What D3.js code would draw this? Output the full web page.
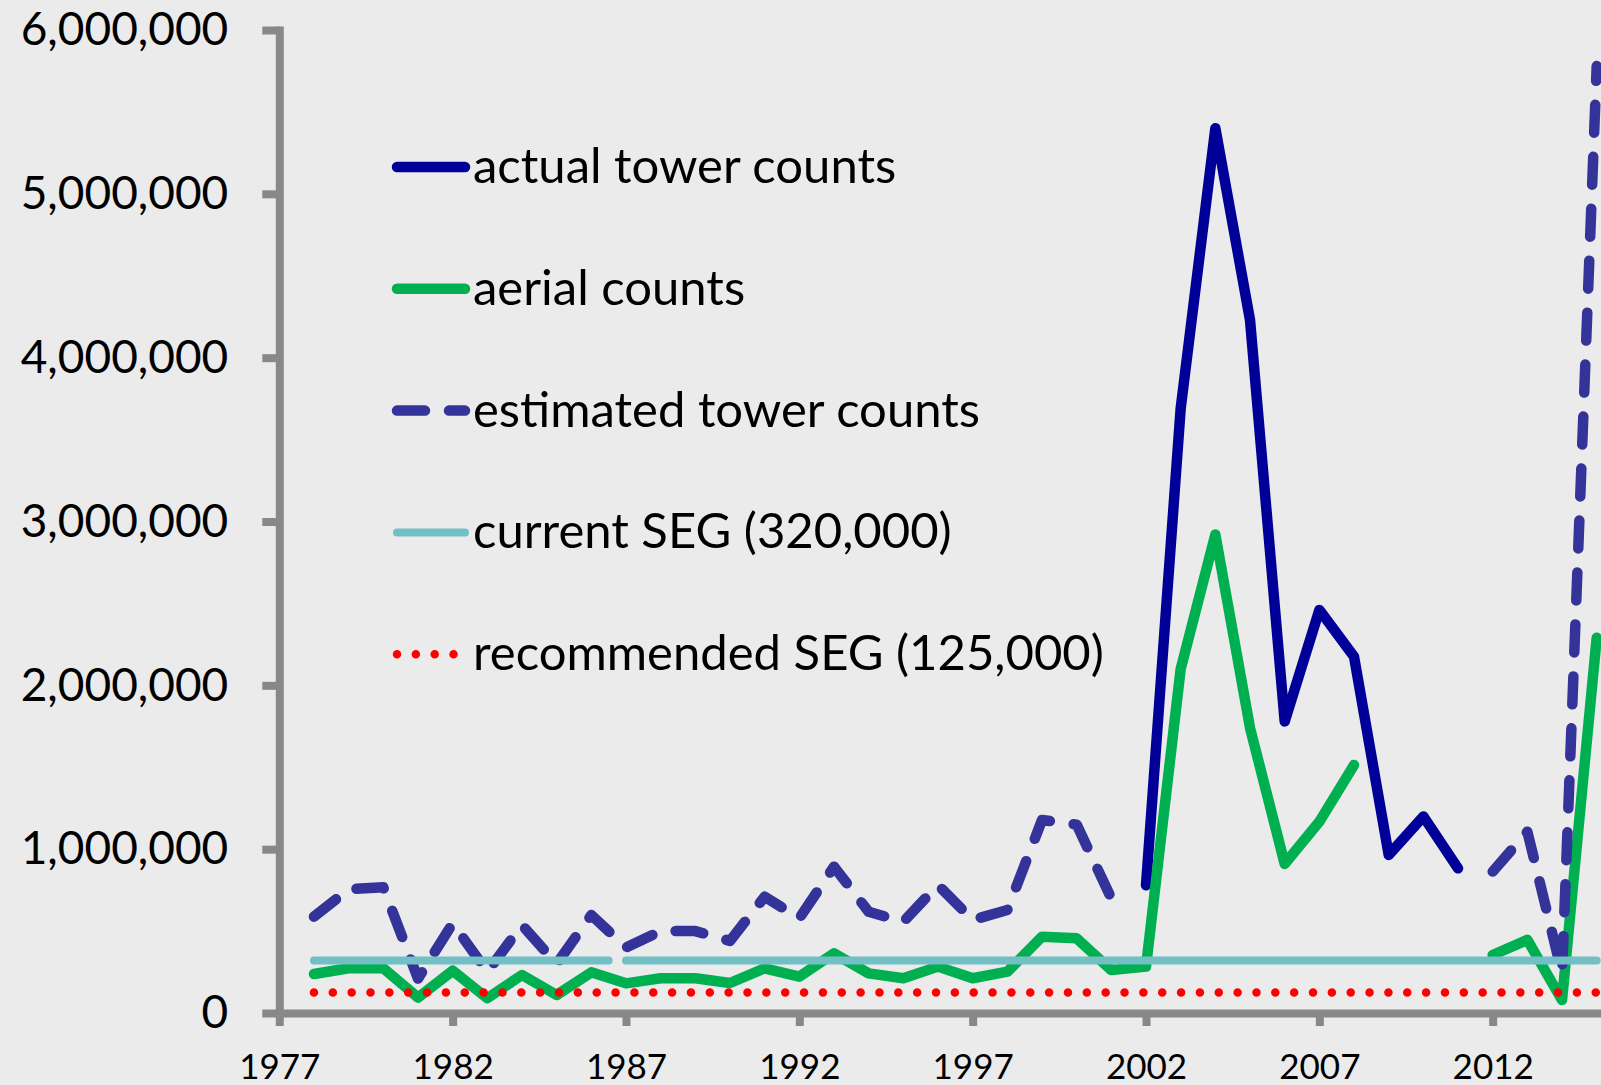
<!DOCTYPE html>
<html>
<head>
<meta charset="utf-8">
<title>Tower and aerial counts</title>
<script src="https://d3js.org/d3.v7.min.js"></script>
<style>
  body { margin: 0; background: #ebebeb; }
  svg { display: block; font-family: Lato, "Open Sans", sans-serif; }
  .axis path, .axis line { stroke: #888888; stroke-width: 8; }
  .axis text { fill: #000; font-family: Lato, "Open Sans", sans-serif; }
</style>
</head>
<body>
<div id="chart"></div>
<script>
// years on the x axis (one value per year)
const years = [1978, 1979, 1980, 1981, 1982, 1983, 1984, 1985, 1986, 1987,
  1988, 1989, 1990, 1991, 1992, 1993, 1994, 1995, 1996, 1997,
  1998, 1999, 2000, 2001, 2002, 2003, 2004, 2005, 2006, 2007,
  2008, 2009, 2010, 2011, 2012, 2013, 2014, 2015];

const actualTower = [null, null, null, null, null, null, null, null, null, null,
  null, null, null, null, null, null, null, null, null, null,
  null, null, null, null, 780000, 3690000, 5400000, 4230000, 1780000, 2460000,
  2175000, 965000, 1200000, 883000, null, null, null, null];

const aerial = [238000, 273000, 273000, 94000, 258000, 90000, 232000, 110000, 248000, 181000,
  212000, 212000, 183000, 273000, 222000, 364000, 242000, 212000, 283000, 212000,
  252000, 466000, 456000, 262000, 283000, 2100000, 2920000, 1740000, 910000, 1168000,
  1514000, null, null, null, 354000, 446000, 79000, 2290000];

const estimatedTower = [588000, 755000, 767000, 210000, 547000, 252000, 537000, 300000, 598000, 400000,
  500000, 500000, 440000, 710000, 578000, 893000, 618000, 557000, 781000, 568000,
  629000, 1178000, 1150000, 700000, null, null, null, null, null, null,
  null, null, null, null, 863000, 1107000, 242000, 5780000];

// goal lines: level and the year spans they are drawn over
const currentSeg = 320000;
const currentSegSpans = [[1978, 1986.5], [1987, 2015]];
const recommendedSeg = 125000;
const recommendedSegSpan = [1978, 2015];

const xTicks = [1977, 1982, 1987, 1992, 1997, 2002, 2007, 2012];
const yTicks = [0, 1000000, 2000000, 3000000, 4000000, 5000000, 6000000];

const legendLabels = ["actual tower counts", "aerial counts", "estimated tower counts",
  "current SEG (320,000)", "recommended SEG (125,000)"];

const width = 1601, height = 1085;

const svg = d3.select("#chart").append("svg")
  .attr("width", width)
  .attr("height", height);

svg.append("rect").attr("width", width).attr("height", height).attr("fill", "#ebebeb");

const x = d3.scaleLinear().domain([1977, 2015]).range([279.3, 1596.7]);
const y = d3.scaleLinear().domain([0, 6000000]).range([1013, 30]);

// y axis
const yAxis = svg.append("g")
  .attr("class", "axis")
  .attr("transform", `translate(${x(1977)},0)`)
  .call(d3.axisLeft(y).tickValues(yTicks).tickSize(17).tickSizeOuter(0)
    .tickPadding(34).tickFormat(d3.format(",")));
yAxis.attr("font-family", null);
yAxis.selectAll("text").style("font-size", "46px");

// x axis
const xAxis = svg.append("g")
  .attr("class", "axis")
  .attr("transform", `translate(0,${y(0)})`)
  .call(d3.axisBottom(x).tickValues(xTicks).tickSize(13).tickSizeOuter(0)
    .tickPadding(28).tickFormat(d3.format("d")));
xAxis.attr("font-family", null);
xAxis.selectAll("text").style("font-size", "35px");
svg.selectAll(".axis .domain").attr("stroke-linecap", "square");

// series
const line = d3.line()
  .defined(d => d.v != null)
  .x(d => x(d.year))
  .y(d => y(d.v));

const toPoints = vals => years.map((yr, i) => ({ year: yr, v: vals[i] }));

const series = [
  { vals: actualTower, color: "#000099", width: 10.5, dash: null },
  { vals: aerial, color: "#00b050", width: 10.5, dash: null },
  { vals: estimatedTower, color: "#333399", width: 10.5, dash: "28 24" }
];

series.forEach(s => {
  svg.append("path")
    .datum(toPoints(s.vals))
    .attr("fill", "none")
    .attr("stroke", s.color)
    .attr("stroke-width", s.width)
    .attr("stroke-linecap", "round")
    .attr("stroke-linejoin", "round")
    .attr("stroke-dasharray", s.dash)
    .attr("d", line);
});

// current SEG line
currentSegSpans.forEach(span => {
  svg.append("path")
    .datum(span.map(yr => ({ year: yr, v: currentSeg })))
    .attr("fill", "none")
    .attr("stroke", "#72c0c6")
    .attr("stroke-width", 8)
    .attr("stroke-linecap", "round")
    .attr("d", line);
});

// recommended SEG dotted line
svg.append("path")
  .datum(recommendedSegSpan.map(yr => ({ year: yr, v: recommendedSeg })))
  .attr("fill", "none")
  .attr("stroke", "#ff0000")
  .attr("stroke-width", 8.5)
  .attr("stroke-linecap", "round")
  .attr("stroke-dasharray", "0 18.85")
  .attr("d", line);

// legend
const legendStyles = [
  { color: "#000099", width: 10.5, dash: null },
  { color: "#00b050", width: 10.5, dash: null },
  { color: "#333399", width: 10.5, dash: "28 24" },
  { color: "#72c0c6", width: 8, dash: null },
  { color: "#ff0000", width: 8.5, dash: "0 18.85" }
];

const legend = svg.append("g").attr("transform", "translate(397,167)");
legendLabels.forEach((label, i) => {
  const g = legend.append("g").attr("transform", `translate(0,${i * 121.8})`);
  const st = legendStyles[i];
  g.append("line")
    .attr("x1", 0).attr("x2", 68)
    .attr("stroke", st.color)
    .attr("stroke-width", st.width)
    .attr("stroke-linecap", "round")
    .attr("stroke-dasharray", st.dash);
  g.append("text")
    .attr("x", 76)
    .attr("y", 16)
    .style("font-size", "49px")
    .attr("fill", "#000")
    .text(label);
});
</script>
</body>
</html>
